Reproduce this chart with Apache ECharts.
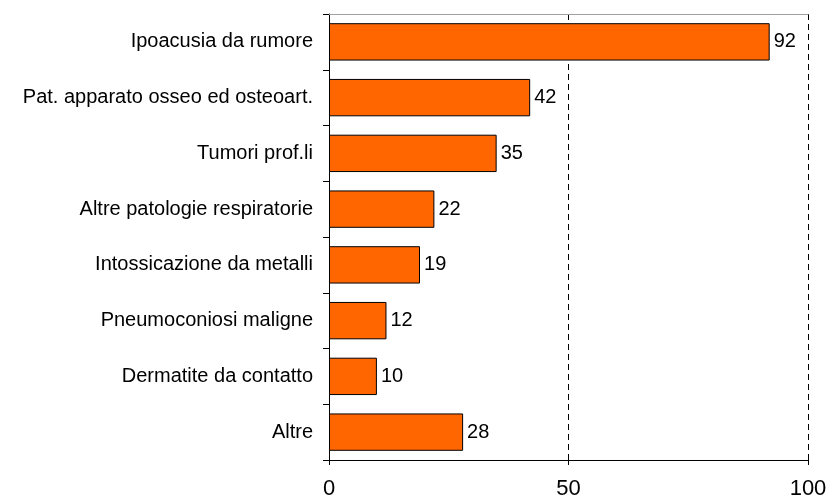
<!DOCTYPE html>
<html><head><meta charset="utf-8">
<script src="https://cdn.jsdelivr.net/npm/echarts@6/dist/echarts.min.js"></script>
<style>html,body{margin:0;padding:0;background:#fff}#c{width:830px;height:498px}</style>
</head><body><div id="c"></div>
<script>
const categories = ["Ipoacusia da rumore","Pat. apparato osseo ed osteoart.","Tumori prof.li","Altre patologie respiratorie","Intossicazione da metalli","Pneumoconiosi maligne","Dermatite da contatto","Altre"];
const values = [92,42,35,22,19,12,10,28];
const xTicks = [0,50,100];

const chart = echarts.init(document.getElementById('c'));
chart.setOption({
  animation:false,
  textStyle:{fontFamily:'Liberation Sans, Arial, sans-serif'},
  grid:{left:329,right:22,top:14,bottom:38,containLabel:false,outerBoundsMode:'none'},
  xAxis:[{
    type:'value',min:xTicks[0],max:xTicks[xTicks.length-1],interval:50,
    axisLine:{show:true,lineStyle:{color:'#000',width:1}},
    axisTick:{show:true,length:5,lineStyle:{color:'#000'}},
    axisLabel:{color:'#000',fontSize:22,margin:18,fontFamily:'Liberation Sans'},
    splitLine:{show:true,lineStyle:{color:'#000',type:[6,4],width:1}}
  },{
    type:'value',position:'top',min:0,max:100,
    axisLine:{show:true,lineStyle:{color:'#a0a0a0',width:1}},
    axisTick:{show:false},axisLabel:{show:false},splitLine:{show:false}
  }],
  yAxis:{
    type:'category',data:categories,inverse:true,
    axisLine:{show:true,onZero:false,lineStyle:{color:'#000',width:1}},
    axisTick:{show:true,length:6,lineStyle:{color:'#000'}},
    axisLabel:{color:'#000',fontSize:20,margin:16,fontFamily:'Liberation Sans'},
    splitLine:{show:false}
  },
  series:[{
    type:'bar',data:values,barCategoryGap:'33%',
    itemStyle:{color:'#FF6600',borderColor:'#000',borderWidth:1},
    label:{show:true,position:'right',color:'#000',fontSize:20,distance:4,fontFamily:'Liberation Sans'}
  }]
});
</script></body></html>
